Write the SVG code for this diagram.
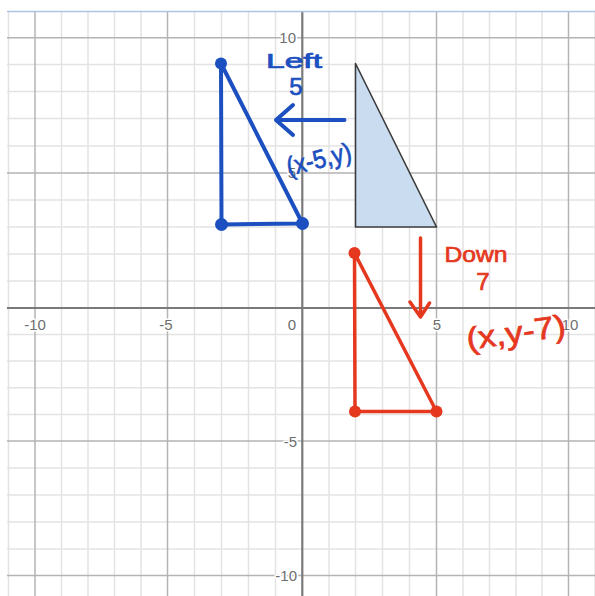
<svg xmlns="http://www.w3.org/2000/svg" width="595" height="596" viewBox="0 0 595 596">
<defs>
<style>
.minor{stroke:#e3e3e3;stroke-width:1.5;fill:none}
.major{stroke:#b4b4b4;stroke-width:1.5;fill:none}
.axis{stroke:#7a7a7a;stroke-width:2.2;fill:none}
.num{font-family:"Liberation Sans",Arial,sans-serif;font-size:15px;fill:#6e6e6e;stroke:#fff;stroke-width:3;paint-order:stroke;stroke-linejoin:round}
.blue{stroke:#1c4fbf;stroke-width:4;fill:none;stroke-linecap:round;stroke-linejoin:round}
.red{stroke:#e5381f;stroke-width:3.5;fill:none;stroke-linecap:round;stroke-linejoin:round}
.bdot{fill:#1c4fbf}
.rdot{fill:#e5381f}
.hb{font-family:"Liberation Sans",Arial,sans-serif;fill:#1c4fbf;stroke:#1c4fbf;stroke-width:0.7}
.hr{font-family:"Liberation Sans",Arial,sans-serif;fill:#e5381f;stroke:#e5381f;stroke-width:0.7}
</style>
<clipPath id="frame"><rect x="7" y="11.5" width="588" height="585"/></clipPath>
</defs>
<rect width="595" height="596" fill="#fff"/>
<g id="grid" clip-path="url(#frame)">
<g class="minor">
<path d="M8.5 0V596M61.5 0V596M88 0V596M114.5 0V596M141 0V596M194.5 0V596M221.5 0V596M248.5 0V596M275.5 0V596M329 0V596M355.5 0V596M382.5 0V596M409.5 0V596M463 0V596M489.5 0V596M516 0V596M542 0V596M595 0V596"/>
<path d="M0 11H595M0 64.5H595M0 91.5H595M0 118.5H595M0 146H595M0 200H595M0 227H595M0 254H595M0 281H595M0 334.5H595M0 361H595M0 387.8H595M0 414.5H595M0 468H595M0 495H595M0 522H595M0 549H595"/>
</g>
<g class="major">
<path d="M35 0V596M167.5 0V596M436.5 0V596M568.5 0V596"/>
<path d="M0 37.7H595M0 173H595M0 441H595M0 575.5H595"/>
</g>
<g class="axis">
<path d="M302.3 0V596M0 308H595"/>
</g>
</g>
<line x1="7" y1="11.5" x2="595" y2="11.5" stroke="#aec4e6" stroke-width="1.5"/>
<g id="axis-labels" class="num">
<text x="35" y="330" text-anchor="middle">-10</text>
<text x="166" y="330" text-anchor="middle">-5</text>
<text x="296" y="330" text-anchor="end">0</text>
<text x="437" y="330" text-anchor="middle">5</text>
<text x="570" y="330" text-anchor="middle">10</text>
<text x="296" y="43" text-anchor="end">10</text>
<text x="296" y="178" text-anchor="end">5</text>
<text x="297" y="447" text-anchor="end">-5</text>
<text x="297" y="581" text-anchor="end">-10</text>
</g>
<g id="original-triangle">
<polygon points="355.5,63.5 355.5,227 436.5,227" fill="#c9dcf0" stroke="#3c3c3c" stroke-width="1.6" stroke-linejoin="round"/>
</g>
<g id="left-image">
<polygon class="blue" points="221,63.5 221.5,224.5 302.5,223.5"/>
<circle class="bdot" cx="221" cy="63.5" r="6"/>
<circle class="bdot" cx="221.5" cy="224.5" r="6.5"/>
<circle class="bdot" cx="302.5" cy="223.5" r="6.5"/>
</g>
<g id="down-image">
<polygon class="red" points="354.5,253 355,411.5 436.5,411.5"/>
<circle class="rdot" cx="354.5" cy="253" r="6"/>
<circle class="rdot" cx="355" cy="411.5" r="6"/>
<circle class="rdot" cx="436.5" cy="411.5" r="6"/>
</g>
<g id="connectors">
<path class="blue" d="M344.5 120H276M293 105L276 120L293 135"/>
<path class="red" d="M420.5 238V317M410 302L420.5 317L429.5 303"/>
</g>
<g id="labels">
<text class="hb" x="294" y="68" font-size="20" text-anchor="middle" textLength="56" lengthAdjust="spacingAndGlyphs">Left</text>
<text class="hb" x="296" y="95" font-size="24" text-anchor="middle">5</text>
<text class="hb" x="319" y="168" font-size="26" text-anchor="middle" textLength="66" lengthAdjust="spacingAndGlyphs" transform="rotate(-14 319 160)">(x-5,y)</text>
<text class="hr" x="476" y="262" font-size="22" text-anchor="middle" textLength="63" lengthAdjust="spacingAndGlyphs">Down</text>
<text class="hr" x="483" y="290" font-size="24" text-anchor="middle">7</text>
<text class="hr" x="516" y="343" font-size="31" text-anchor="middle" textLength="100" lengthAdjust="spacingAndGlyphs" transform="rotate(-8 516 333)">(x,y-7)</text>
</g>
</svg>
